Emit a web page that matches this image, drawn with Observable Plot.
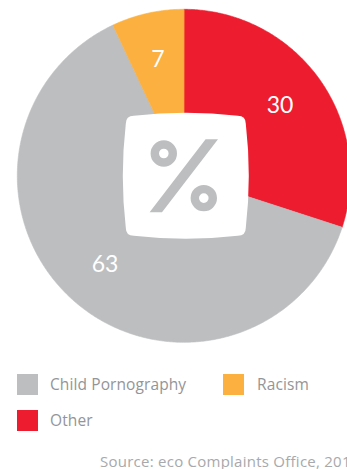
<!DOCTYPE html>
<html>
<head>
<meta charset="utf-8">
<script src="https://cdn.jsdelivr.net/npm/d3@7"></script>
<script src="https://cdn.jsdelivr.net/npm/@observablehq/plot@0.6"></script>
<style>
  html, body { margin: 0; padding: 0; background: #fff; }
  body { width: 347px; height: 469px; overflow: hidden; position: relative; font-family: "Open Sans", Lato, sans-serif; }
  #chart { position: absolute; left: 0; top: 0; }
  .sw { position: absolute; width: 21px; height: 21px; }
  .lbl { position: absolute; font-size: 15.5px; color: #939598; line-height: 21px; white-space: nowrap; letter-spacing: 0.1px; }
  #source { position: absolute; left: 100px; top: 451px; font-size: 15px; color: #a7a9ac; white-space: nowrap; letter-spacing: 0.25px; }
</style>
</head>
<body>
<div id="chart"></div>
<div id="legend"></div>
<div id="source"></div>
<script>
// ---- data ----
const categories = ["Other", "Child Pornography", "Racism"];
const values = [30, 63, 7];
const colors = ["#ED1C2E", "#BCBEC0", "#FBB040"];
const legendOrder = ["Child Pornography", "Racism", "Other"];
const sourceText = "Source: eco Complaints Office, 2015";

// ---- pie geometry (derived from values) ----
const arcs = d3.pie().sort(null).value(d => d)(values);
const slicePts = [];
arcs.forEach((a, i) => {
  const cat = categories[i];
  slicePts.push({cat, x: 0, y: 0});
  const n = Math.max(2, Math.ceil((a.endAngle - a.startAngle) / 0.01));
  for (let k = 0; k <= n; k++) {
    const t = a.startAngle + (a.endAngle - a.startAngle) * k / n;
    slicePts.push({cat, x: Math.sin(t), y: Math.cos(t)});
  }
});
const labelR = 0.715;
const labels = arcs.map((a, i) => {
  const m = (a.startAngle + a.endAngle) / 2;
  return {text: String(values[i]), x: labelR * Math.sin(m), y: labelR * Math.cos(m)};
});

// ---- decorative centre icon symbols ----
const squircle = {
  draw(ctx) {
    const s = 60, c = 66, r = 8;
    ctx.moveTo(-s, -s + r);
    ctx.quadraticCurveTo(-s, -s, -s + r, -s);
    ctx.quadraticCurveTo(0, -c, s - r, -s);
    ctx.quadraticCurveTo(s, -s, s, -s + r);
    ctx.quadraticCurveTo(c, 0, s, s - r);
    ctx.quadraticCurveTo(s, s, s - r, s);
    ctx.quadraticCurveTo(0, c, -s + r, s);
    ctx.quadraticCurveTo(-s, s, -s, s - r);
    ctx.quadraticCurveTo(-c, 0, -s, -s + r);
    ctx.closePath();
  }
};
const percentSym = {
  draw(ctx) {
    const R = 13.2, ri = 4.8;
    [[-20, -22.3], [20, 22.3]].forEach(([cx, cy]) => {
      ctx.moveTo(cx + R, cy);
      ctx.arc(cx, cy, R, 0, 2 * Math.PI);
      ctx.closePath();
      ctx.moveTo(cx + ri, cy);
      ctx.arc(cx, cy, ri, 0, -2 * Math.PI, true);
      ctx.closePath();
    });
    const w = 6.2, xt = 28, yt = 36.5;
    ctx.moveTo(xt - w, -yt);
    ctx.lineTo(xt + w, -yt);
    ctx.lineTo(-xt + w, yt);
    ctx.lineTo(-xt - w, yt);
    ctx.closePath();
  }
};
const centre = [{x: 0, y: 0}];

const plot = Plot.plot({
  width: 347,
  height: 350,
  margin: 0,
  style: {background: "transparent"},
  x: {domain: [-1, 1], range: [16.8, 349.8], axis: null},
  y: {domain: [-1, 1], range: [341.8, 8.8], axis: null},
  color: {domain: categories, range: colors},
  marks: [
    Plot.line(slicePts, {x: "x", y: "y", z: "cat", fill: "cat", stroke: "cat", strokeWidth: 0.6, curve: "linear-closed"}),
    Plot.dot(centre, {x: "x", y: "y", r: 60, symbol: squircle, fill: "white", stroke: "none", dx: 2}),
    Plot.dot(centre, {x: "x", y: "y", r: 30, symbol: percentSym, fill: "#BCBEC0", stroke: "none"}),
    Plot.text(labels, {x: "x", y: "y", text: "text", fill: "white", fontSize: 23, fontFamily: "Lato"})
  ]
});
document.getElementById("chart").appendChild(plot);

// ---- legend ----
const legendPos = [
  {sx: 17, sy: 374, tx: 50},
  {sx: 223, sy: 374, tx: 257},
  {sx: 17, sy: 410, tx: 50}
];
const legend = document.getElementById("legend");
legendOrder.forEach((cat, i) => {
  const p = legendPos[i];
  const sw = document.createElement("div");
  sw.className = "sw";
  sw.style.left = p.sx + "px";
  sw.style.top = p.sy + "px";
  sw.style.background = colors[categories.indexOf(cat)];
  legend.appendChild(sw);
  const t = document.createElement("div");
  t.className = "lbl";
  t.style.left = p.tx + "px";
  t.style.top = p.sy + "px";
  t.textContent = cat;
  legend.appendChild(t);
});
document.getElementById("source").textContent = sourceText;
</script>
</body>
</html>
